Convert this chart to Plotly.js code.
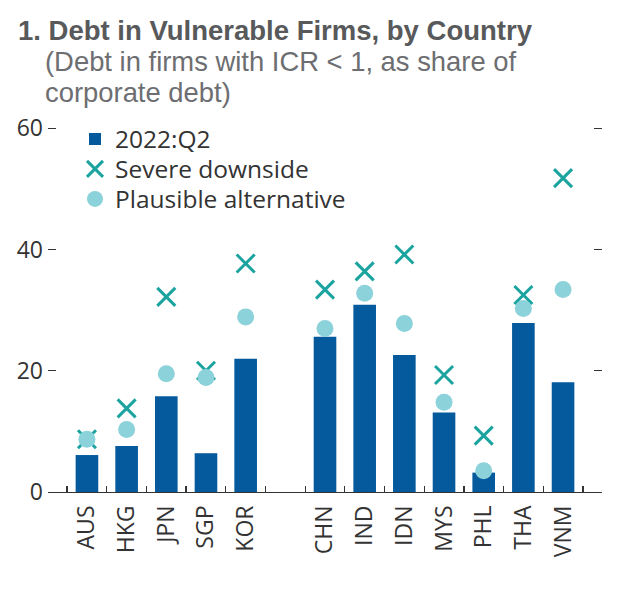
<!DOCTYPE html>
<html><head><meta charset="utf-8">
<script src="https://cdn.plot.ly/plotly-3.0.1.min.js"></script>
<style>html,body{margin:0;padding:0;background:#fff;}#chart{width:630px;height:594px;}</style>
</head><body><div id="chart"></div>
<script>
const countries = ['AUS','HKG','JPN','SGP','KOR',' ','CHN','IND','IDN','MYS','PHL','THA','VNM'];
const q2022 = [6.1, 7.6, 15.8, 6.4, 22.0, null, 25.6, 30.9, 22.6, 13.1, 3.2, 27.9, 18.1];
const severe = [8.7, 13.8, 32.2, 20.0, 37.7, null, 33.4, 36.4, 39.2, 19.3, 9.3, 32.5, 51.8];
const plausible = [8.7, 10.3, 19.5, 18.9, 28.9, null, 27.0, 32.8, 27.8, 14.8, 3.5, 30.3, 33.4];
const yTicks = [0, 20, 40, 60];
const titleText = '1. Debt in Vulnerable Firms, by Country';
const subtitleLines = ['(Debt in firms with ICR < 1, as share of', 'corporate debt)'];

const font = "'Open Sans', 'Noto Sans', sans-serif";
const headFont = "'Liberation Sans', Arial, sans-serif";
const T = 126, B = 102, H = 594 - T - B;
const py = p => (594 - B - p) / H;           // pixel row -> paper y
const px = p => (p - 48) / 554;              // pixel col -> paper x

const data = [
  {type:'bar', name:'2022:Q2', x:countries, y:q2022, marker:{color:'#045A9C'}, legend:'legend'},
  {type:'scatter', mode:'markers', name:'Severe downside', x:countries, y:severe, legend:'legend2',
   marker:{symbol:'x-thin', size:18, color:'#1AA39F', line:{color:'#1AA39F', width:3}}},
  {type:'scatter', mode:'markers', name:'Plausible alternative', x:countries, y:plausible, legend:'legend3',
   marker:{symbol:'circle', size:17, color:'#8CD2DA'}}
];
const legFont = {family:font, size:24.5, color:'#333'};
const mkLeg = (cy) => ({x:px(75), y:py(cy), xanchor:'left', yanchor:'middle', bgcolor:'rgba(0,0,0,0)',
     font:legFont, itemwidth:30, tracegroupgap:0});
const annotations = [
  {text:'<b>' + titleText + '</b>', xref:'paper', yref:'paper', x:px(16), xanchor:'left',
   y:py(30.3), yanchor:'middle', showarrow:false, font:{family:headFont, size:27.5, color:'#58595B'}}
].concat(subtitleLines.map((s, i) => ({
   text:s.replace('<', '&lt;'), xref:'paper', yref:'paper', x:px(43), xanchor:'left',
   y:py(61.8 + 31 * i), yanchor:'middle', showarrow:false, font:{family:headFont, size:27.4, color:'#6D6E71'}})));

const layout = {
  width:630, height:594,
  margin:{l:48, r:28, t:T, b:B, pad:0},
  paper_bgcolor:'#fff', plot_bgcolor:'#fff',
  font:{family:font, color:'#333', size:23},
  showlegend:true,
  bargap:0.43,
  annotations:annotations,
  legend:mkLeg(139),
  legend2:mkLeg(169),
  legend3:mkLeg(199),
  xaxis:{type:'category', categoryorder:'array', categoryarray:countries, tickson:'boundaries',
     ticks:'inside', ticklen:6, tickwidth:1.3, tickcolor:'#333', showline:true, linecolor:'#333', linewidth:1.3,
     tickangle:-90, showgrid:false, zeroline:false, fixedrange:true, ticklabelstandoff:3,
     tickfont:{family:font, size:23, color:'#333'}},
  yaxis:{range:[0,60.4], tickvals:yTicks, ticktext:yTicks.map(String), ticks:'inside', ticklen:8, tickwidth:1.3,
     tickcolor:'#333', mirror:'ticks', showline:false, showgrid:false, zeroline:false, fixedrange:true,
     ticklabelstandoff:4, tickfont:{family:font, size:23, color:'#333'}}
};
Plotly.newPlot('chart', data, layout, {displayModeBar:false, staticPlot:true});
</script></body></html>
